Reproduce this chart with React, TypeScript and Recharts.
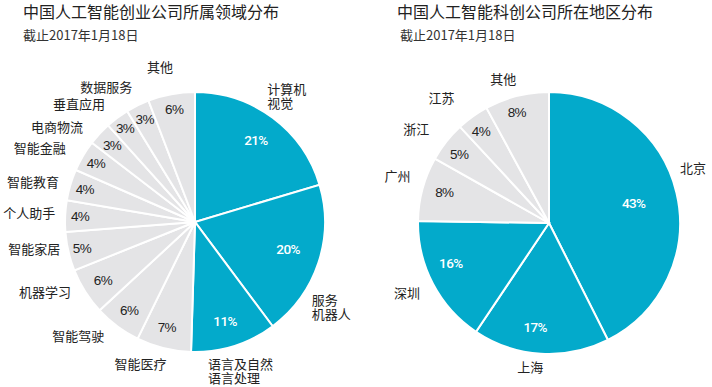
import React from 'react';
import { PieChart, Pie, Cell } from 'recharts';

// ---------- data ----------
const fieldCategories = [
  '计算机\n视觉', '服务\n机器人', '语言及自然\n语言处理', '智能医疗', '智能驾驶', '机器学习', '智能家居',
  '个人助手', '智能教育', '智能金融', '电商物流', '垂直应用', '数据服务', '其他',
];
const fieldValues = [21, 20, 11, 7, 6, 6, 5, 4, 4, 4, 3, 3, 3, 6];

const regionCategories = ['北京', '上海', '深圳', '广州', '浙江', '江苏', '其他'];
const regionValues = [43, 17, 16, 8, 5, 4, 8];

const titles = ['中国人工智能创业公司所属领域分布', '中国人工智能科创公司所在地区分布'];
const subtitle = '截止2017年1月18日';

// ---------- styles / layout ----------
const BLUE = '#03AACB';
const GREY = '#E4E4E6';
const TEXT = '#222';
const CJK = '"Noto Sans CJK SC", "Noto Sans", sans-serif';
const NUM = '"Liberation Sans", Arial, sans-serif';
const NUM_HL = 'Roboto, "Liberation Sans", Arial, sans-serif';
const HIGHLIGHT_COUNT = 3;

type NameLayout = { d: number; r: number; anchor?: 'start' | 'middle' | 'end' };
// angular nudge (deg, clockwise) and radius of outer name labels
const leftNameLayout: NameLayout[] = [
  { d: -7, r: 146, anchor: 'start' },
  { d: 17.4, r: 144, anchor: 'start' },
  { d: 12.5, r: 149, anchor: 'start' },
  { d: 7, r: 152 },
  { d: 9, r: 163 },
  { d: 7.6, r: 165 },
  { d: 3.6, r: 163 },
  { d: 0.8, r: 166 },
  { d: -2.7, r: 167 },
  { d: -5, r: 172 },
  { d: -8, r: 168 },
  { d: -7.6, r: 166 },
  { d: -7, r: 162 },
  { d: -2.2, r: 159 },
];
const leftPctLayout = [
  { d: 0, r: 102 }, { d: -2, r: 97 }, { d: 0.5, r: 103 }, { d: 1, r: 109 }, { d: 0, r: 110 },
  { d: 0, r: 109 }, { d: 0, r: 116 }, { d: 0, r: 115 }, { d: 0, r: 115 }, { d: 0, r: 115 },
  { d: 0, r: 113 }, { d: 0, r: 117 }, { d: 0, r: 114 }, { d: 0, r: 114 },
];
const rightNameLayout: NameLayout[] = [
  { d: -9.7, r: 142.5, anchor: 'start' },
  { d: 3.9, r: 145 },
  { d: 1.7, r: 158 },
  { d: 2.4, r: 159 },
  { d: -2.8, r: 163 },
  { d: -5, r: 165 },
  { d: -3.3, r: 152 },
];
const rightPctLayout = [
  { d: 0, r: 87 }, { d: 4, r: 105 }, { d: 5.4, r: 106 }, { d: 1, r: 109 },
  { d: -1, r: 113 }, { d: -1, r: 114 }, { d: -2, r: 115 },
];

const leftData = fieldCategories.map((name, i) => ({ name, value: fieldValues[i] }));
const rightData = regionCategories.map((name, i) => ({ name, value: regionValues[i] }));

const RAD = Math.PI / 180;
const polar = (cx: number, cy: number, r: number, clockDeg: number) => ({
  x: cx + r * Math.sin(clockDeg * RAD),
  y: cy - r * Math.cos(clockDeg * RAD),
});

const makeLabel = (nameLayout: NameLayout[], pctLayout: { d: number; r: number }[]) => (props: any) => {
  const { cx, cy, midAngle, index, payload, value } = props;
  const clock = 90 - midAngle;
  const nl = nameLayout[index];
  const pl = pctLayout[index];
  const p = polar(cx, cy, pl.r, clock + pl.d);
  const n = polar(cx, cy, nl.r, clock + nl.d);
  const lines: string[] = String(payload.name).split('\n');
  const lh = 14;
  const y0 = n.y - ((lines.length - 1) * lh) / 2;
  const hl = index < HIGHLIGHT_COUNT;
  return (
    <g>
      <text
        x={p.x}
        y={p.y}
        textAnchor="middle"
        dominantBaseline="central"
        fill={hl ? '#fff' : TEXT}
        fontFamily={hl ? NUM_HL : NUM}
        fontWeight={hl ? 500 : 'normal'}
        fontSize={13.5}
        letterSpacing={-0.6}
      >
        {`${value}%`}
      </text>
      {lines.map((l, i) => (
        <text
          key={i}
          x={n.x}
          y={y0 + i * lh}
          textAnchor={nl.anchor || 'middle'}
          dominantBaseline="central"
          fill={TEXT}
          fontFamily={CJK}
          fontSize={13}
        >
          {l}
        </text>
      ))}
    </g>
  );
};

const PieBlock = ({ data, cx, cy, r, nameLayout, pctLayout }: any) => (
  <PieChart width={356} height={387} margin={{ top: 0, right: 0, bottom: 0, left: 0 }}>
    <Pie
      data={data}
      dataKey="value"
      nameKey="name"
      cx={cx}
      cy={cy}
      outerRadius={r}
      startAngle={90}
      endAngle={-270}
      stroke="#fff"
      strokeWidth={2}
      labelLine={false}
      label={makeLabel(nameLayout, pctLayout)}
      isAnimationActive={false}
    >
      {data.map((d: any, i: number) => (
        <Cell key={d.name} fill={i < HIGHLIGHT_COUNT ? BLUE : GREY} />
      ))}
    </Pie>
  </PieChart>
);

export default function App() {
  return (
    <div style={{ position: 'absolute', left: 0, top: 0, width: 712, height: 387, background: '#fff', overflow: 'hidden' }}>
      <div style={{ position: 'absolute', left: 0, top: 0 }}>
        <PieBlock data={leftData} cx={195} cy={222} r={130} nameLayout={leftNameLayout} pctLayout={leftPctLayout} />
      </div>
      <div style={{ position: 'absolute', left: 356, top: 0 }}>
        <PieBlock data={rightData} cx={193} cy={223} r={131} nameLayout={rightNameLayout} pctLayout={rightPctLayout} />
      </div>
      <svg width={712} height={50} style={{ position: 'absolute', left: 0, top: 0 }}>
        <text x={23} y={11} dominantBaseline="central" fontFamily={CJK} fontSize={16} fill={TEXT}>{titles[0]}</text>
        <text x={23} y={34.5} dominantBaseline="central" fontFamily={CJK} fontSize={13} fill="#333">{subtitle}</text>
        <text x={397} y={11} dominantBaseline="central" fontFamily={CJK} fontSize={16} fill={TEXT}>{titles[1]}</text>
        <text x={400} y={34.5} dominantBaseline="central" fontFamily={CJK} fontSize={13} fill="#333">{subtitle}</text>
      </svg>
    </div>
  );
}
